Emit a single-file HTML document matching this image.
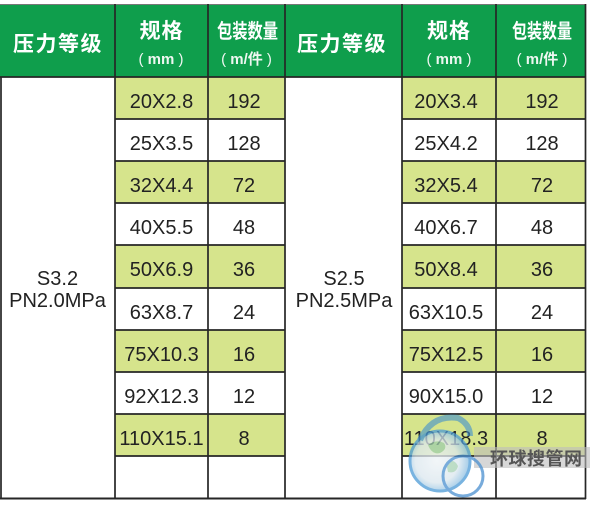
<!DOCTYPE html>
<html>
<head>
<meta charset="utf-8">
<style>
html,body{margin:0;padding:0;background:#fff;}
body{width:600px;height:505px;overflow:hidden;}
svg{display:block;}
.hd{font-family:"Liberation Sans","Noto Sans CJK SC","WenQuanYi Zen Hei",sans-serif;font-weight:bold;fill:#fff;}
.sub{font-family:"Liberation Sans","Noto Sans CJK SC",sans-serif;font-weight:bold;fill:#eef7f1;font-size:15px;}
.b{font-family:"Liberation Sans",Arial,sans-serif;font-size:20px;fill:#222;text-anchor:middle;}
</style>
</head>
<body>
<svg width="600" height="505" viewBox="0 0 600 505" xmlns="http://www.w3.org/2000/svg">
  <defs>
    <radialGradient id="gl" cx="0.45" cy="0.5" r="0.6">
      <stop offset="0" stop-color="#eef3f6"/>
      <stop offset="0.6" stop-color="#dbe7ee"/>
      <stop offset="1" stop-color="#6aaede"/>
    </radialGradient>
  </defs>
  <!-- header background -->
  <rect x="0" y="4" width="586" height="73" fill="#0f9e4c"/>
  <!-- yellow rows -->
  <g fill="#d6e48c">
    <rect x="115" y="77" width="170" height="42"/>
    <rect x="115" y="161" width="170" height="42"/>
    <rect x="115" y="245" width="170" height="43"/>
    <rect x="115" y="330" width="170" height="42"/>
    <rect x="115" y="414" width="170" height="42"/>
    <rect x="402" y="77" width="184" height="42"/>
    <rect x="402" y="161" width="184" height="42"/>
    <rect x="402" y="245" width="184" height="43"/>
    <rect x="402" y="330" width="184" height="42"/>
    <rect x="402" y="414" width="184" height="42"/>
  </g>
  <!-- grid -->
  <g stroke="#262626" stroke-width="1.7" fill="none">
    <line x1="0" y1="4.5" x2="586" y2="4.5" stroke="#777" stroke-width="1"/>
    <line x1="0" y1="77" x2="586" y2="77"/>
    <line x1="0" y1="498.5" x2="586" y2="498.5" stroke-width="2"/>
    <line x1="1" y1="77" x2="1" y2="499"/>
    <line x1="115" y1="4" x2="115" y2="499"/>
    <line x1="208" y1="4" x2="208" y2="499"/>
    <line x1="285" y1="4" x2="285" y2="499"/>
    <line x1="402" y1="4" x2="402" y2="499"/>
    <line x1="496" y1="4" x2="496" y2="499"/>
    <line x1="585.5" y1="4" x2="585.5" y2="499"/>
    <line x1="115" y1="119" x2="285" y2="119"/>
    <line x1="115" y1="161" x2="285" y2="161"/>
    <line x1="115" y1="203" x2="285" y2="203"/>
    <line x1="115" y1="245" x2="285" y2="245"/>
    <line x1="115" y1="288" x2="285" y2="288"/>
    <line x1="115" y1="330" x2="285" y2="330"/>
    <line x1="115" y1="372" x2="285" y2="372"/>
    <line x1="115" y1="414" x2="285" y2="414"/>
    <line x1="115" y1="456" x2="285" y2="456"/>
    <line x1="402" y1="119" x2="586" y2="119"/>
    <line x1="402" y1="161" x2="586" y2="161"/>
    <line x1="402" y1="203" x2="586" y2="203"/>
    <line x1="402" y1="245" x2="586" y2="245"/>
    <line x1="402" y1="288" x2="586" y2="288"/>
    <line x1="402" y1="330" x2="586" y2="330"/>
    <line x1="402" y1="372" x2="586" y2="372"/>
    <line x1="402" y1="414" x2="586" y2="414"/>
    <line x1="402" y1="456" x2="586" y2="456"/>
  </g>

  <!-- headers -->
  <text class="hd" x="58" y="51" font-size="21" text-anchor="middle" letter-spacing="1.5">压力等级</text>
  <text class="hd" x="161.5" y="38" font-size="21" text-anchor="middle" letter-spacing="1">规格</text>
  <text class="sub" x="161" y="64" text-anchor="middle"><tspan font-weight="normal">(</tspan> mm <tspan font-weight="normal">)</tspan></text>
  <text class="hd" x="217" y="38" font-size="20" textLength="61" lengthAdjust="spacingAndGlyphs">包装数量</text>
  <text class="sub" x="246.5" y="64" text-anchor="middle"><tspan font-weight="normal">(</tspan> m/件 <tspan font-weight="normal">)</tspan></text>

  <text class="hd" x="342" y="51" font-size="21" text-anchor="middle" letter-spacing="1.5">压力等级</text>
  <text class="hd" x="449" y="38" font-size="21" text-anchor="middle" letter-spacing="1">规格</text>
  <text class="sub" x="449" y="64" text-anchor="middle"><tspan font-weight="normal">(</tspan> mm <tspan font-weight="normal">)</tspan></text>
  <text class="hd" x="512" y="38" font-size="20" textLength="60" lengthAdjust="spacingAndGlyphs">包装数量</text>
  <text class="sub" x="542" y="64" text-anchor="middle"><tspan font-weight="normal">(</tspan> m/件 <tspan font-weight="normal">)</tspan></text>

  <!-- merged cells -->
  <text class="b" x="57.5" y="285">S3.2</text>
  <text class="b" x="57.5" y="307">PN2.0MPa</text>
  <text class="b" x="344" y="285">S2.5</text>
  <text class="b" x="344" y="307">PN2.5MPa</text>

  <!-- left data -->
  <g>
    <text class="b" x="161.5" y="108">20X2.8</text><text class="b" x="244" y="108">192</text>
    <text class="b" x="161.5" y="150">25X3.5</text><text class="b" x="244" y="150">128</text>
    <text class="b" x="161.5" y="192">32X4.4</text><text class="b" x="244" y="192">72</text>
    <text class="b" x="161.5" y="234">40X5.5</text><text class="b" x="244" y="234">48</text>
    <text class="b" x="161.5" y="276">50X6.9</text><text class="b" x="244" y="276">36</text>
    <text class="b" x="161.5" y="319">63X8.7</text><text class="b" x="244" y="319">24</text>
    <text class="b" x="161.5" y="361">75X10.3</text><text class="b" x="244" y="361">16</text>
    <text class="b" x="161.5" y="403">92X12.3</text><text class="b" x="244" y="403">12</text>
    <text class="b" x="161.5" y="445">110X15.1</text><text class="b" x="244" y="445">8</text>
  </g>
  <!-- right data -->
  <g>
    <text class="b" x="446" y="108">20X3.4</text><text class="b" x="542" y="108">192</text>
    <text class="b" x="446" y="150">25X4.2</text><text class="b" x="542" y="150">128</text>
    <text class="b" x="446" y="192">32X5.4</text><text class="b" x="542" y="192">72</text>
    <text class="b" x="446" y="234">40X6.7</text><text class="b" x="542" y="234">48</text>
    <text class="b" x="446" y="276">50X8.4</text><text class="b" x="542" y="276">36</text>
    <text class="b" x="446" y="319">63X10.5</text><text class="b" x="542" y="319">24</text>
    <text class="b" x="446" y="361">75X12.5</text><text class="b" x="542" y="361">16</text>
    <text class="b" x="446" y="403">90X15.0</text><text class="b" x="542" y="403">12</text>
    <text class="b" x="446" y="445">110X18.3</text><text class="b" x="542" y="445">8</text>
  </g>

  <!-- watermark -->
  <rect x="474" y="447" width="116" height="21" fill="#bdbdbd" opacity="0.6"/>
  <text x="490" y="465" font-family="'Noto Sans CJK SC','WenQuanYi Zen Hei',sans-serif" font-weight="bold" font-size="18" fill="#555" letter-spacing="0.5">环球搜管网</text>
  <g opacity="0.75">
    <circle cx="440" cy="461" r="30" fill="url(#gl)" stroke="#4c9ad6" stroke-width="3"/>
    <path d="M428 445 q8 -6 16 -2 q4 6 -4 10 q-8 2 -12 -8z" fill="#8fc79a" opacity="0.8"/>
    <path d="M446 462 q8 -4 12 4 q-2 8 -10 6z" fill="#8fc79a" opacity="0.7"/>
    <circle cx="463" cy="476" r="20" fill="none" stroke="#4a8fd0" stroke-width="3"/>
    <path d="M420 440 Q432 414 458 418 Q470 424 470 436" fill="none" stroke="#3f8fd0" stroke-width="6" opacity="0.8"/>
  </g>
</svg>
</body>
</html>
